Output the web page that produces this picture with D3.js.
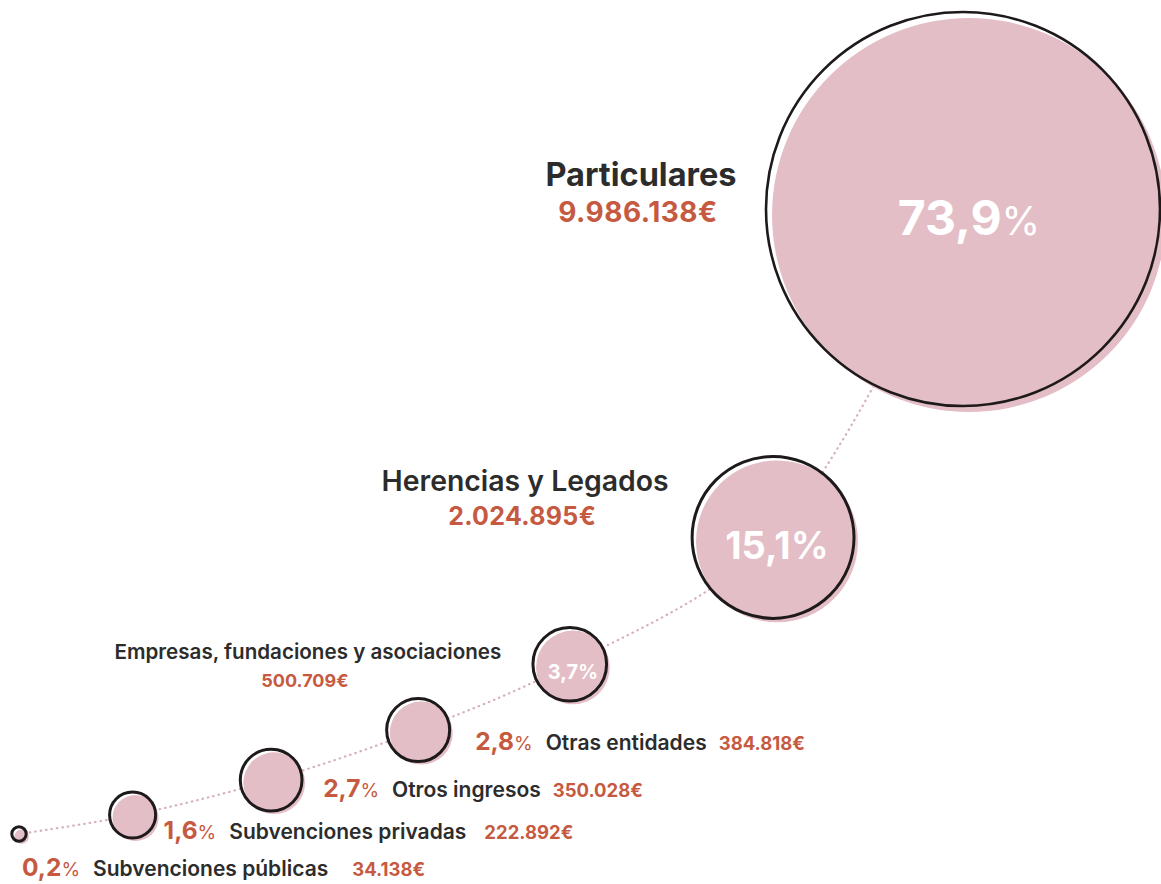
<!DOCTYPE html>
<html><head><meta charset="utf-8">
<script src="https://cdn.jsdelivr.net/npm/d3@7"></script>
<style>
html,body{margin:0;padding:0;background:#fff;}
svg{display:block;font-family:Inter,"Open Sans",sans-serif;}
</style>
</head><body>
<svg id="chart" width="1161" height="884"></svg>
<script>
// ---- data ----
const categories = ["Subvenciones públicas","Subvenciones privadas","Otros ingresos","Otras entidades","Empresas, fundaciones y asociaciones","Herencias y Legados","Particulares"];
const amounts = [34138, 222892, 350028, 384818, 500709, 2024895, 9986138];
const shares = [0.2, 1.6, 2.7, 2.8, 3.7, 15.1, 73.9];

// ---- layout config (not data) ----
const W = 1161, H = 884;
const rMax = 197;
const labelLayout = [
  {mode:"row", dx:3,  dy:42, vgap:24},
  {mode:"row", dx:31, dy:24, vgap:18},
  {mode:"row", dx:52, dy:17, vgap:12},
  {mode:"row", dx:57, dy:20, vgap:12},
  {mode:"stack", dx:(r)=>-r-225, tdy:-5,  vdy:23,  ts:20.6, vs:18,   tw:600, ps:20, ls:0},
  {mode:"stack", dx:(r)=>-r-167, tdy:-46, vdy:-12, ts:28.4, vs:25,   tw:600, ps:38, ls:0.3},
  {mode:"stack", dx:(r)=>-r-125, tdy:-23, vdy:13,  ts:32.5, vs:28,   tw:700, ps:48, ls:0.5}
];
const pink = "#e4bec6", dark = "#2c2c2c", red = "#c65a41";

const locale = d3.formatLocale({decimal:",", thousands:".", grouping:[3], currency:["","€"]});
const fmtAmount = d => locale.format(",")(d) + "€";
const fmtShare = locale.format(".1f");

const svg = d3.select("#chart");

const rScale = d3.scalePow().exponent(0.56).domain([0, d3.max(shares)]).range([0, rMax]);
// direction and spacing of each link of the chain (segment k joins circle k and k+1)
const angleScale = d3.scaleLinear().domain([0, 3, 4, 5]).range([-9.5, -23.5, -32, -60]);
const gapScale = d3.scaleLinear().domain([0, 3, 4, 5]).range([85, 97, 122, 102]);

const n = categories.length;
const nodes = categories.map((c, i) => ({name:c, amount:amounts[i], share:shares[i], r:rScale(shares[i]), i}));
// chain layout (abstract units), from the largest circle backwards
nodes[n-1].lx = 0; nodes[n-1].ly = 0;
for (let i = n - 2; i >= 0; i--) {
  const a = angleScale(i) * Math.PI / 180;
  const d = nodes[i].r + nodes[i+1].r + gapScale(i);
  nodes[i].lx = nodes[i+1].lx - d * Math.cos(a);
  nodes[i].ly = nodes[i+1].ly - d * Math.sin(a);
}
const xScale = d3.scaleLinear().domain(d3.extent(nodes, d => d.lx)).range([19, W - 1 - rMax]);
const yScale = d3.scaleLinear().domain(d3.extent(nodes, d => d.ly)).range([12 + rMax, 834]);
nodes.forEach(d => { d.cx = xScale(d.lx); d.cy = yScale(d.ly); d.off = 2.5 + d.r * 0.018; });

// dotted connector
const line = d3.line().x(d => d.cx).y(d => d.cy).curve(d3.curveCatmullRom.alpha(0.5));
svg.append("path").datum(nodes).attr("d", line)
  .attr("fill", "none").attr("stroke", "#d6b0b8").attr("stroke-width", 2.2)
  .attr("stroke-dasharray", "0.5 5").attr("stroke-linecap", "round");

const g = svg.selectAll("g.bubble").data(nodes).join("g").attr("class", "bubble");
g.append("circle").attr("cx", d => d.cx).attr("cy", d => d.cy).attr("r", d => d.r).attr("fill", "#fff");
g.append("circle").attr("cx", d => d.cx + d.off).attr("cy", d => d.cy + d.off).attr("r", d => d.r).attr("fill", pink);
g.append("circle").attr("cx", d => d.cx).attr("cy", d => d.cy).attr("r", d => d.r)
  .attr("fill", "none").attr("stroke", "#1e1a1b").attr("stroke-width", d => d.r > 100 ? 2.6 : 3);

// labels
nodes.forEach(d => {
  const L = labelLayout[d.i];
  if (L.mode === "row") {
    const t = svg.append("text").attr("x", d.cx + L.dx).attr("y", d.cy + L.dy);
    t.append("tspan").text(fmtShare(d.share)).attr("fill", red).attr("font-size", 24.5).attr("font-weight", 700);
    t.append("tspan").text("%").attr("fill", red).attr("font-size", 19).attr("font-weight", 400);
    t.append("tspan").text(d.name).attr("dx", 13).attr("fill", dark).attr("font-size", 21).attr("font-weight", 600);
    t.append("tspan").text(fmtAmount(d.amount)).attr("dx", L.vgap).attr("fill", red).attr("font-size", 18.5).attr("font-weight", 700);
  } else {
    const x = d.cx + L.dx(d.r);
    svg.append("text").attr("x", x).attr("y", d.cy + L.tdy).attr("text-anchor", "middle")
      .attr("fill", dark).attr("font-size", L.ts).attr("font-weight", L.tw).text(d.name);
    svg.append("text").attr("x", x - 3).attr("y", d.cy + L.vdy).attr("text-anchor", "middle")
      .attr("fill", red).attr("font-size", L.vs).attr("font-weight", 700).attr("letter-spacing", L.ls)
      .text(fmtAmount(d.amount));
    const p = svg.append("text").attr("x", d.cx + d.off).attr("y", d.cy + d.off + 0.3 * L.ps).attr("dy", "0.36em")
      .attr("text-anchor", "middle").attr("fill", "#fff");
    p.append("tspan").text(fmtShare(d.share)).attr("font-size", L.ps).attr("font-weight", 700);
    p.append("tspan").text("%").attr("font-size", L.ps * (d.r > 100 ? 0.82 : 1)).attr("font-weight", d.r > 100 ? 400 : 600);
  }
});
</script>
</body></html>
